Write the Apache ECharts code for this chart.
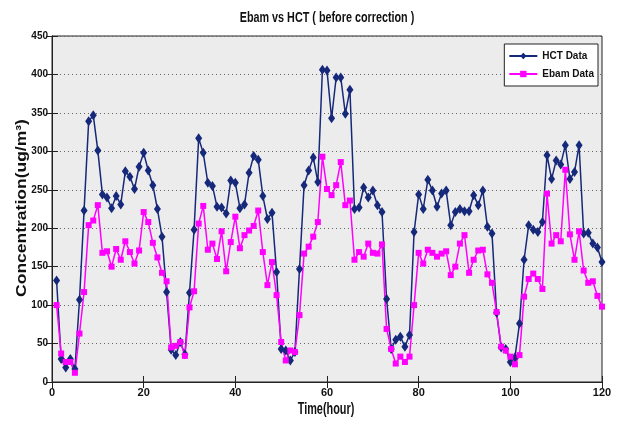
<!DOCTYPE html>
<html>
<head>
<meta charset="utf-8">
<script src="https://cdn.jsdelivr.net/npm/echarts@6/dist/echarts.min.js"></script>
<style>
  html, body { margin: 0; padding: 0; background: #fff; }
  #chart { width: 621px; height: 422px; }
</style>
</head>
<body>
<div id="chart"></div>
<script>
// hourly readings, hour 1 .. 120
var hctData = [132,30,19,30,17,107,223,339,347,301, 244,240,226,242,231,274,267,251,280,298,
  275,256,225,189,117,42,35,52,36,116, 198,317,298,259,255,228,227,219,262,259,
  226,231,272,294,289,242,212,220,143,43, 41,28,39,147,256,275,292,260,406,405,
  343,396,396,349,380,225,227,253,240,249, 230,221,108,43,55,59,46,61,195,244,
  225,263,249,228,245,249,204,221,225,222, 222,243,230,249,202,193,90,45,43,26,
  32,76,159,204,198,195,208,295,264,288, 283,308,264,273,308,193,194,180,175,156];

var ebamData = [100,37,26,26,12,63,117,204,210,230, 168,170,150,173,159,183,169,154,171,221,
  208,181,162,142,131,45,47,52,34,97, 118,206,229,172,180,160,196,144,182,215,
  174,191,197,203,223,169,126,156,113,52, 28,41,39,87,167,176,189,208,293,251,
  243,256,286,230,236,159,169,163,180,168, 167,179,69,43,24,33,26,33,100,168,
  154,172,168,163,167,170,139,150,180,191, 142,159,171,172,140,129,91,46,41,33,
  23,35,111,134,141,134,121,245,180,191, 183,276,192,159,196,145,129,131,112,98];

var xTicks = [0, 20, 40, 60, 80, 100, 120];
var yTicks = [0, 50, 100, 150, 200, 250, 300, 350, 400, 450];

var font = "'Liberation Sans', Arial, sans-serif";
var ink = '#111';

function pairs(arr) {
  var out = [];
  for (var i = 0; i < arr.length; i++) out.push([i + 1, arr[i]]);
  return out;
}

var dom = document.getElementById('chart');
var myChart = echarts.init(dom);

var tickStyle = { show: true, inside: true, length: 6, lineStyle: { color: '#222' } };

var option = {
  backgroundColor: '#fff',
  animation: false,
  // title and axis names: condensed look of the original figure
  graphic: [{
    type: 'text',
    x: 327, y: 18,
    scaleX: 0.72,
    style: { text: 'Ebam vs HCT ( before correction )', font: 'bold 15px ' + font,
      fill: ink, textAlign: 'center', textVerticalAlign: 'middle' }
  }, {
    type: 'text',
    x: 326, y: 410,
    scaleX: 0.68,
    style: { text: 'Time(hour)', font: 'bold 16px ' + font,
      fill: ink, textAlign: 'center', textVerticalAlign: 'middle' }
  }, {
    type: 'text',
    x: 22, y: 208,
    rotation: Math.PI / 2,
    scaleX: 1.25,
    style: { text: 'Concentration(ug/m\u00b3)', font: 'bold 14px ' + font,
      fill: ink, textAlign: 'center', textVerticalAlign: 'middle' }
  }],
  legend: {
    orient: 'vertical',
    right: 23,
    top: 44,
    backgroundColor: '#fff',
    borderColor: '#222',
    borderWidth: 1,
    padding: [7, 4, 7, 4],
    itemGap: 8,
    itemWidth: 28,
    itemHeight: 8,
    textStyle: { fontFamily: font, fontSize: 10, fontWeight: 'bold', color: ink },
    data: ['HCT Data', 'Ebam Data']
  },
  grid: {
    left: 52,
    right: 19,
    top: 36,
    bottom: 40,
    show: true,
    backgroundColor: '#ececec',
    borderColor: '#222',
    borderWidth: 1
  },
  xAxis: [{
    type: 'value',
    gridIndex: 0,
    min: xTicks[0],
    max: xTicks[xTicks.length - 1],
    interval: 20,
    axisLine: { show: true, lineStyle: { color: '#222' } },
    axisTick: tickStyle,
    axisLabel: { fontFamily: font, fontSize: 11, fontWeight: 'bold', color: ink, margin: 5 },
    splitLine: { show: false }
  }, {
    type: 'value',
    gridIndex: 0,
    position: 'top',
    min: xTicks[0],
    max: xTicks[xTicks.length - 1],
    interval: 20,
    axisLine: { show: true, lineStyle: { color: '#222' } },
    axisTick: tickStyle,
    axisLabel: { show: false },
    splitLine: { show: false }
  }],
  yAxis: [{
    type: 'value',
    gridIndex: 0,
    min: yTicks[0],
    max: yTicks[yTicks.length - 1],
    interval: 50,
    axisLine: { show: true, lineStyle: { color: '#222' } },
    axisTick: tickStyle,
    axisLabel: { fontFamily: font, fontSize: 10, fontWeight: 'bold', color: ink, margin: 4 },
    splitLine: { show: true, lineStyle: { color: '#666', type: [1, 3], width: 1 } }
  }, {
    type: 'value',
    gridIndex: 0,
    position: 'right',
    min: yTicks[0],
    max: yTicks[yTicks.length - 1],
    interval: 50,
    axisLine: { show: true, lineStyle: { color: '#222' } },
    axisTick: tickStyle,
    axisLabel: { show: false },
    splitLine: { show: false }
  }],
  series: [{
    name: 'HCT Data',
    type: 'line',
    xAxisIndex: 0,
    yAxisIndex: 0,
    data: pairs(hctData),
    symbol: 'diamond',
    symbolSize: [7, 10],
    color: '#16287a',
    lineStyle: { width: 1.5, color: '#16287a' },
    itemStyle: { color: '#16287a' }
  }, {
    name: 'Ebam Data',
    type: 'line',
    xAxisIndex: 0,
    yAxisIndex: 0,
    data: pairs(ebamData),
    symbol: 'rect',
    symbolSize: 6,
    color: '#ff00ff',
    lineStyle: { width: 1.5, color: '#ff00ff' },
    itemStyle: { color: '#ff00ff' }
  }]
};

window.onresize = function () {
  myChart.resize();
};

if (option && typeof option === 'object') {
  myChart.setOption(option);
}
</script>
</body>
</html>
